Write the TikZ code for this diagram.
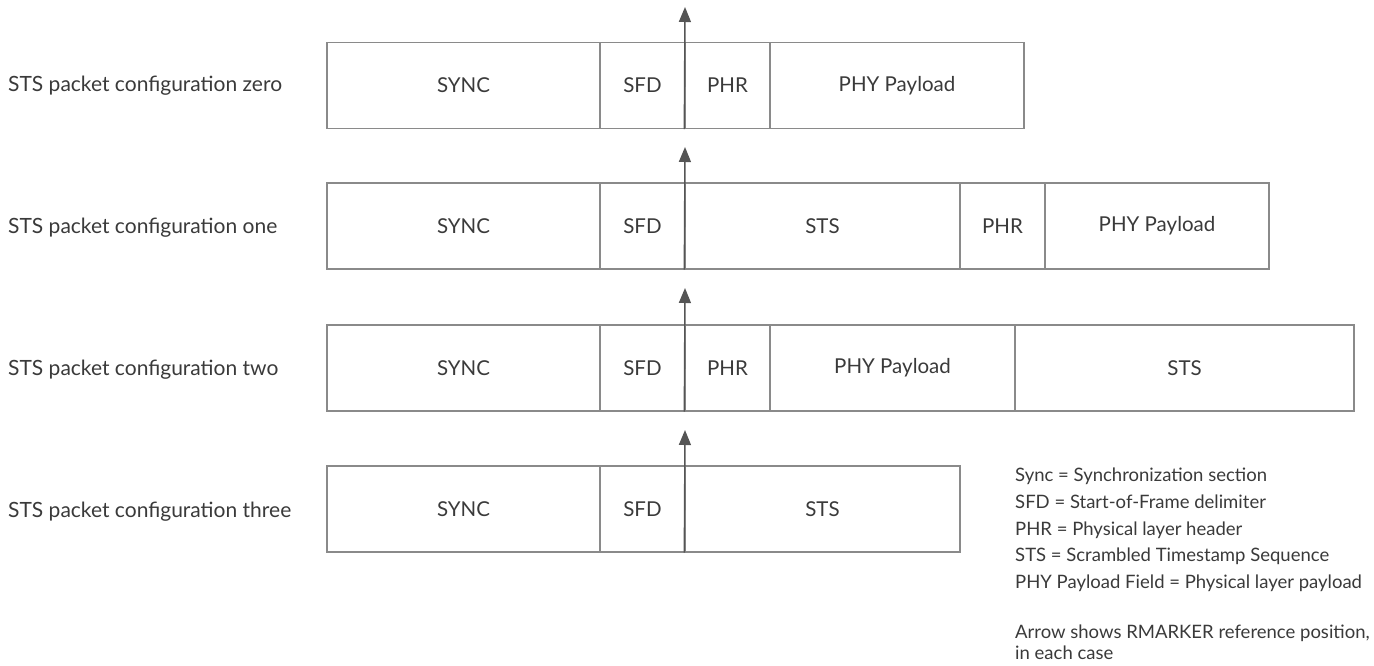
\documentclass[tikz,border=0pt]{standalone}
\usepackage{fontspec}
\setmainfont{Lato}
\usetikzlibrary{arrows.meta}
\definecolor{linegray}{HTML}{8A8A8A}
\definecolor{textgray}{HTML}{3A3A3A}
\definecolor{arrowgray}{HTML}{555555}
\tikzset{
  cell/.style={draw=linegray, line width=1.4pt, minimum height=86pt, inner sep=0pt, text=textgray, font=\fontsize{20.5}{24}\selectfont},
  rowlabel/.style={anchor=west, inner sep=0pt, text=textgray, font=\fontsize{21}{24}\selectfont},
  marker/.style={draw=arrowgray, line width=1.4pt, -{Triangle[length=15pt,width=12pt]}},
  legendtext/.style={anchor=north west, inner sep=0pt, align=left, text=textgray, font=\fontsize{18.5}{26.7}\selectfont},
  notetext/.style={anchor=north west, inner sep=0pt, align=left, text=textgray, font=\fontsize{18.5}{21}\selectfont}
}
\begin{document}
\begin{tikzpicture}[x=1pt,y=-1pt]
\useasboundingbox (0,0) rectangle (1374,665);
% Row 0
\node[rowlabel] (l0) at (8,86) {STS packet configuration zero};
\node[cell, minimum width=273pt] (a0) at (463.5,85.5) {SYNC};
\node[cell, minimum width=85pt] (b0) at (642.5,85.5) {SFD};
\node[cell, minimum width=85pt] (c0) at (727.5,85.5) {PHR};
\node[cell, minimum width=254pt] (d0) at (897,85.5) {PHY Payload};
\coordinate (t0) at (685,7);
\draw[marker] (c0.south west) -- (t0);
% Row 1
\node[rowlabel] (l1) at (8,228) {STS packet configuration one};
\node[cell, minimum width=273pt] (a1) at (463.5,226) {SYNC};
\node[cell, minimum width=85pt] (b1) at (642.5,226) {SFD};
\node[cell, minimum width=275pt] (c1) at (822.5,226) {STS};
\node[cell, minimum width=85pt] (d1) at (1002.5,226) {PHR};
\node[cell, minimum width=224pt] (e1) at (1157,226) {PHY Payload};
\coordinate (t1) at (685,147);
\draw[marker] (c1.south west) -- (t1);
% Row 2
\node[rowlabel] (l2) at (8,370) {STS packet configuration two};
\node[cell, minimum width=273pt] (a2) at (463.5,368) {SYNC};
\node[cell, minimum width=85pt] (b2) at (642.5,368) {SFD};
\node[cell, minimum width=85pt] (c2) at (727.5,368) {PHR};
\node[cell, minimum width=245pt] (d2) at (892.5,368) {PHY Payload};
\node[cell, minimum width=339pt] (e2) at (1184.5,368) {STS};
\coordinate (t2) at (685,288);
\draw[marker] (c2.south west) -- (t2);
% Row 3
\node[rowlabel] (l3) at (8,512) {STS packet configuration three};
\node[cell, minimum width=273pt] (a3) at (463.5,509) {SYNC};
\node[cell, minimum width=85pt] (b3) at (642.5,509) {SFD};
\node[cell, minimum width=275pt] (c3) at (822.5,509) {STS};
\coordinate (t3) at (685,430);
\draw[marker] (c3.south west) -- (t3);
% Legend
\node[legendtext] (leg) at (1015,468) {Sync = Synchronization section\\SFD = Start-of-Frame delimiter\\PHR = Physical layer header\\STS = Scrambled Timestamp Sequence\\PHY Payload Field = Physical layer payload};
\node[notetext] (note) at (1015,625) {Arrow shows RMARKER reference position,\\in each case};
\end{tikzpicture}
\end{document}
